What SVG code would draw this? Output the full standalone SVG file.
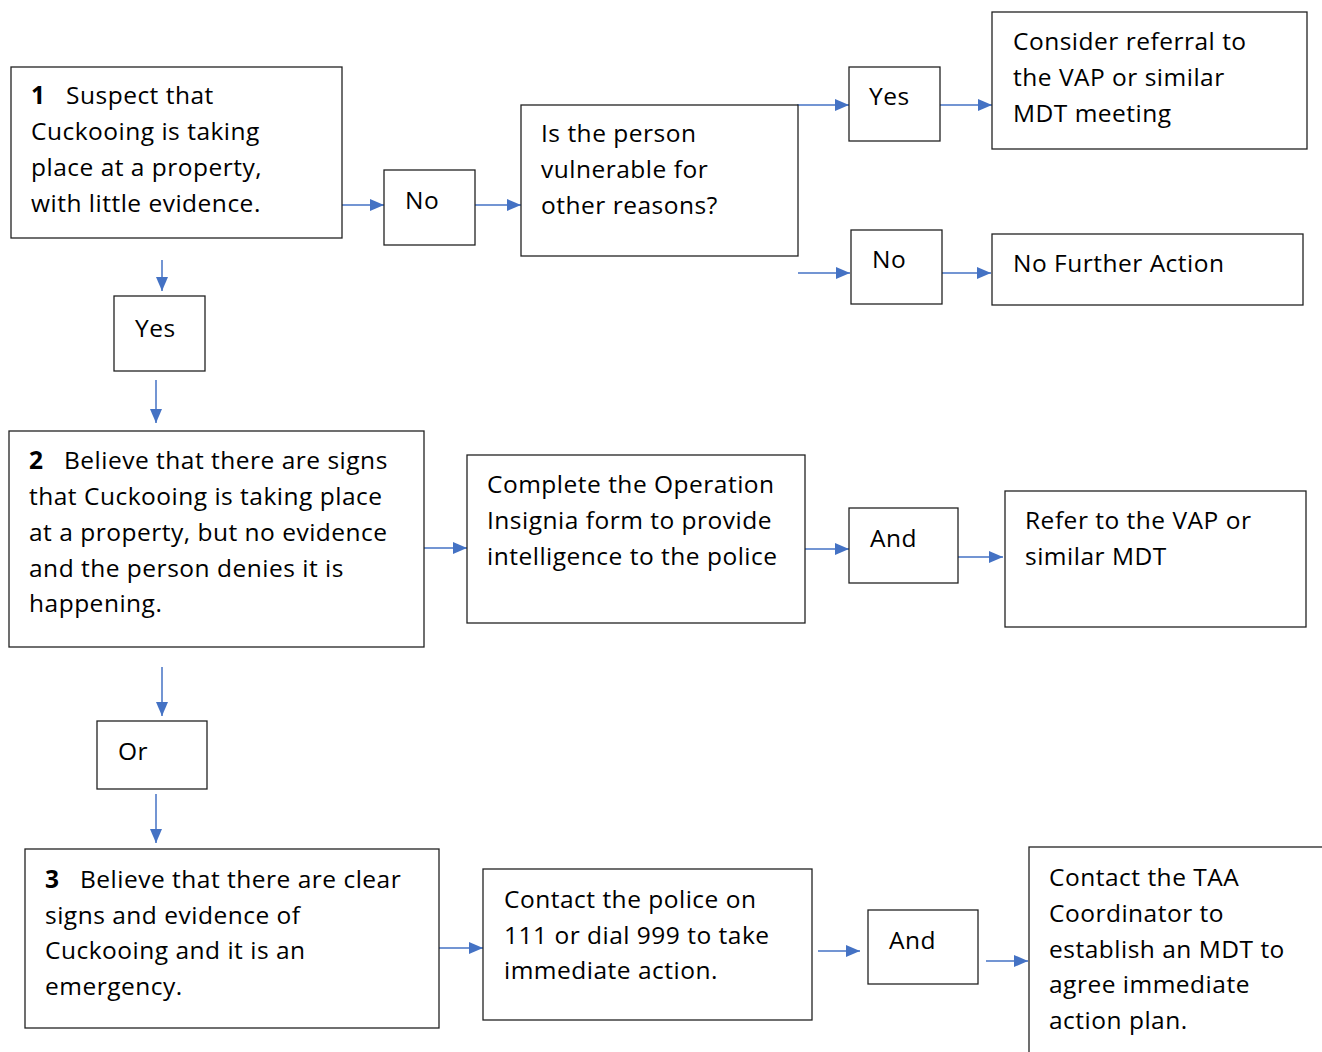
<svg xmlns="http://www.w3.org/2000/svg" width="1322" height="1052" viewBox="0 0 1322 1052">
<style>
.box{fill:#fff;stroke:#222;stroke-width:1.3}
.t{font-family:"Open Sans","Liberation Sans",Arial,sans-serif;font-size:24.5px;letter-spacing:0.5px;fill:#000}
.b{font-weight:bold}
.c{stroke:#4472C4;stroke-width:1.5;fill:none;marker-end:url(#ah)}
</style>
<defs>
<marker id="ah" viewBox="0 0 14 12" refX="14" refY="6" markerWidth="14" markerHeight="12" markerUnits="userSpaceOnUse" orient="auto">
<path d="M0,0 L14,6 L0,12 Z" fill="#4472C4"/>
</marker>
</defs>
<rect width="1322" height="1052" fill="#fff"/>
<g id="connectors">
<line class="c" x1="342" y1="205" x2="384" y2="205"/>
<line class="c" x1="475" y1="205" x2="521" y2="205"/>
<line class="c" x1="797" y1="105" x2="849" y2="105"/>
<line class="c" x1="940" y1="105" x2="992" y2="105"/>
<line class="c" x1="798" y1="273" x2="850" y2="273"/>
<line class="c" x1="942" y1="273" x2="991" y2="273"/>
<line class="c" x1="162" y1="260" x2="162" y2="291"/>
<line class="c" x1="156" y1="380" x2="156" y2="423"/>
<line class="c" x1="424" y1="548" x2="467" y2="548"/>
<line class="c" x1="805" y1="549" x2="849" y2="549"/>
<line class="c" x1="958" y1="557" x2="1003" y2="557"/>
<line class="c" x1="162" y1="667" x2="162" y2="716"/>
<line class="c" x1="156" y1="794" x2="156" y2="843"/>
<line class="c" x1="439" y1="948" x2="483" y2="948"/>
<line class="c" x1="818" y1="951" x2="860" y2="951"/>
<line class="c" x1="986" y1="961" x2="1028" y2="961"/>
</g>
<g id="n1"><rect class="box" x="11" y="67" width="331" height="171"/>
<text class="t" x="31" y="104"><tspan class="b">1</tspan><tspan x="66">Suspect that</tspan></text>
<text class="t" x="31" y="140">Cuckooing is taking</text>
<text class="t" x="31" y="176">place at a property,</text>
<text class="t" x="31" y="212">with little evidence.</text></g>
<g id="n_no1"><rect class="box" x="384" y="170" width="91" height="75"/><text class="t" x="405" y="209">No</text></g>
<g id="n_vuln"><rect class="box" x="521" y="105" width="277" height="151"/>
<text class="t" x="541" y="142">Is the person</text>
<text class="t" x="541" y="178">vulnerable for</text>
<text class="t" x="541" y="214">other reasons?</text></g>
<g id="n_yes2"><rect class="box" x="849" y="67" width="91" height="74"/><text class="t" x="869" y="105">Yes</text></g>
<g id="n_consider"><rect class="box" x="992" y="12" width="315" height="137"/>
<text class="t" x="1013" y="50">Consider referral to</text>
<text class="t" x="1013" y="86">the VAP or similar</text>
<text class="t" x="1013" y="122">MDT meeting</text></g>
<g id="n_no2"><rect class="box" x="851" y="230" width="91" height="74"/><text class="t" x="872" y="268">No</text></g>
<g id="n_nfa"><rect class="box" x="992" y="234" width="311" height="71"/><text class="t" x="1013" y="272">No Further Action</text></g>
<g id="n_yes1"><rect class="box" x="114" y="296" width="91" height="75"/><text class="t" x="135" y="337">Yes</text></g>
<g id="n2"><rect class="box" x="9" y="431" width="415" height="216"/>
<text class="t" x="29" y="469"><tspan class="b">2</tspan><tspan x="64">Believe that there are signs</tspan></text>
<text class="t" x="29" y="505">that Cuckooing is taking place</text>
<text class="t" x="29" y="541">at a property, but no evidence</text>
<text class="t" x="29" y="577">and the person denies it is</text>
<text class="t" x="29" y="612">happening.</text></g>
<g id="n_complete"><rect class="box" x="467" y="455" width="338" height="168"/>
<text class="t" x="487" y="493">Complete the Operation</text>
<text class="t" x="487" y="529">Insignia form to provide</text>
<text class="t" x="487" y="565">intelligence to the police</text></g>
<g id="n_and1"><rect class="box" x="849" y="508" width="109" height="75"/><text class="t" x="870" y="547">And</text></g>
<g id="n_refer"><rect class="box" x="1005" y="491" width="301" height="136"/>
<text class="t" x="1025" y="529">Refer to the VAP or</text>
<text class="t" x="1025" y="565">similar MDT</text></g>
<g id="n_or"><rect class="box" x="97" y="721" width="110" height="68"/><text class="t" x="118" y="760">Or</text></g>
<g id="n3"><rect class="box" x="25" y="849" width="414" height="179"/>
<text class="t" x="45" y="888"><tspan class="b">3</tspan><tspan x="80">Believe that there are clear</tspan></text>
<text class="t" x="45" y="924">signs and evidence of</text>
<text class="t" x="45" y="959">Cuckooing and it is an</text>
<text class="t" x="45" y="995">emergency.</text></g>
<g id="n_police"><rect class="box" x="483" y="869" width="329" height="151"/>
<text class="t" x="504" y="908">Contact the police on</text>
<text class="t" x="504" y="944">111 or dial 999 to take</text>
<text class="t" x="504" y="979">immediate action.</text></g>
<g id="n_and2"><rect class="box" x="868" y="910" width="110" height="74"/><text class="t" x="889" y="949">And</text></g>
<g id="n_taa"><rect class="box" x="1029" y="847" width="310" height="220"/>
<text class="t" x="1049" y="886">Contact the TAA</text>
<text class="t" x="1049" y="922">Coordinator to</text>
<text class="t" x="1049" y="958">establish an MDT to</text>
<text class="t" x="1049" y="993">agree immediate</text>
<text class="t" x="1049" y="1029">action plan.</text></g>
</svg>
